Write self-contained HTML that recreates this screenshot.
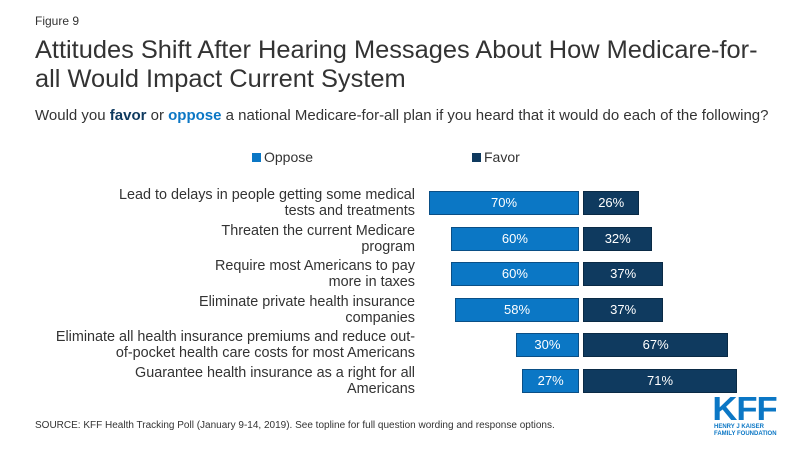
<!DOCTYPE html>
<html><head><meta charset="utf-8"><style>
body{margin:0;width:800px;height:450px;background:#fff;font-family:"Liberation Sans",Arial,sans-serif;position:relative;overflow:hidden;color:#333}
.a{position:absolute}
.lbl{position:absolute;right:385px;text-align:right;font-size:14.4px;line-height:16px;color:#333;width:390px}
</style></head><body>
<div class="a" style="left:35px;top:14px;font-size:12px">Figure 9</div>
<div class="a" style="left:35px;top:36px;font-size:25.4px;line-height:29px;color:#333;width:740px">Attitudes Shift After Hearing Messages About How Medicare-for-all Would Impact Current System</div>
<div class="a" style="left:35px;top:107px;font-size:15px">Would you <b style="color:#0f3a5f">favor</b> or <b style="color:#0b77c5">oppose</b> a national Medicare-for-all plan if you heard that it would do each of the following?</div>
<div class="a" style="left:252px;top:149px;font-size:14px"><span style="display:inline-block;width:9px;height:9px;background:#0b77c5;margin-right:3px"></span>Oppose</div>
<div class="a" style="left:472px;top:149px;font-size:14px"><span style="display:inline-block;width:9px;height:9px;background:#0f3a5f;margin-right:3px"></span>Favor</div>
<div id="chart"></div>
<div class="a" style="left:35px;top:420px;font-size:10px">SOURCE: KFF Health Tracking Poll (January 9-14, 2019). See topline for full question wording and response options.</div>
<div class="a" style="left:714px;top:394px;color:#0b77c5">
<div style="font-size:33px;font-weight:bold;line-height:30px;letter-spacing:-1px;transform:scaleX(1.05)">KFF</div>
<div style="font-size:6px;line-height:7px;font-weight:bold">HENRY J KAISER<br>FAMILY FOUNDATION</div></div>
<script>
const categories=["Lead to delays in people getting some medical tests and treatments","Threaten the current Medicare program","Require most Americans to pay more in taxes","Eliminate private health insurance companies","Eliminate all health insurance premiums and reduce out-of-pocket health care costs for most Americans","Guarantee health insurance as a right for all Americans"];
const labelLines=[["Lead to delays in people getting some medical","tests and treatments"],["Threaten the current Medicare","program"],["Require most Americans to pay","more in taxes"],["Eliminate private health insurance","companies"],["Eliminate all health insurance premiums and reduce out-","of-pocket health care costs for most Americans"],["Guarantee health insurance as a right for all","Americans"]];
const oppose=[70,60,60,58,30,27];
const favor=[26,32,37,37,67,71];
const c=document.getElementById('chart');
const mid=581,sc=2.17,top0=203,step=35.6,bh=24;
function y(i){return top0+i*step;}
function x(v){return v*sc;}
categories.forEach((cat,i)=>{
 const l=document.createElement('div');l.className='lbl';
 
 
 l.style.top=(y(i)-16)+'px';l.innerHTML=labelLines[i].join('<br>');c.appendChild(l);
 const o=document.createElement('div');o.className='a';
 
 
 o.style.cssText=`left:${mid-x(oppose[i])}px;top:${y(i)-bh/2}px;width:${x(oppose[i])-2}px;height:${bh}px;background:#0b77c5;border:1px solid #0a4f86;box-sizing:border-box;color:#fff;font-size:13px;line-height:${bh-2}px;text-align:center`;
 o.textContent=oppose[i]+'%';c.appendChild(o);
 const f=document.createElement('div');f.className='a';
 
 
 f.style.cssText=`left:${mid+2}px;top:${y(i)-bh/2}px;width:${x(favor[i])}px;height:${bh}px;background:#0f3a5f;border:1px solid #0a2a45;box-sizing:border-box;color:#fff;font-size:13px;line-height:${bh-2}px;text-align:center`;
 f.textContent=favor[i]+'%';c.appendChild(f);
});
</script>
</body></html>
